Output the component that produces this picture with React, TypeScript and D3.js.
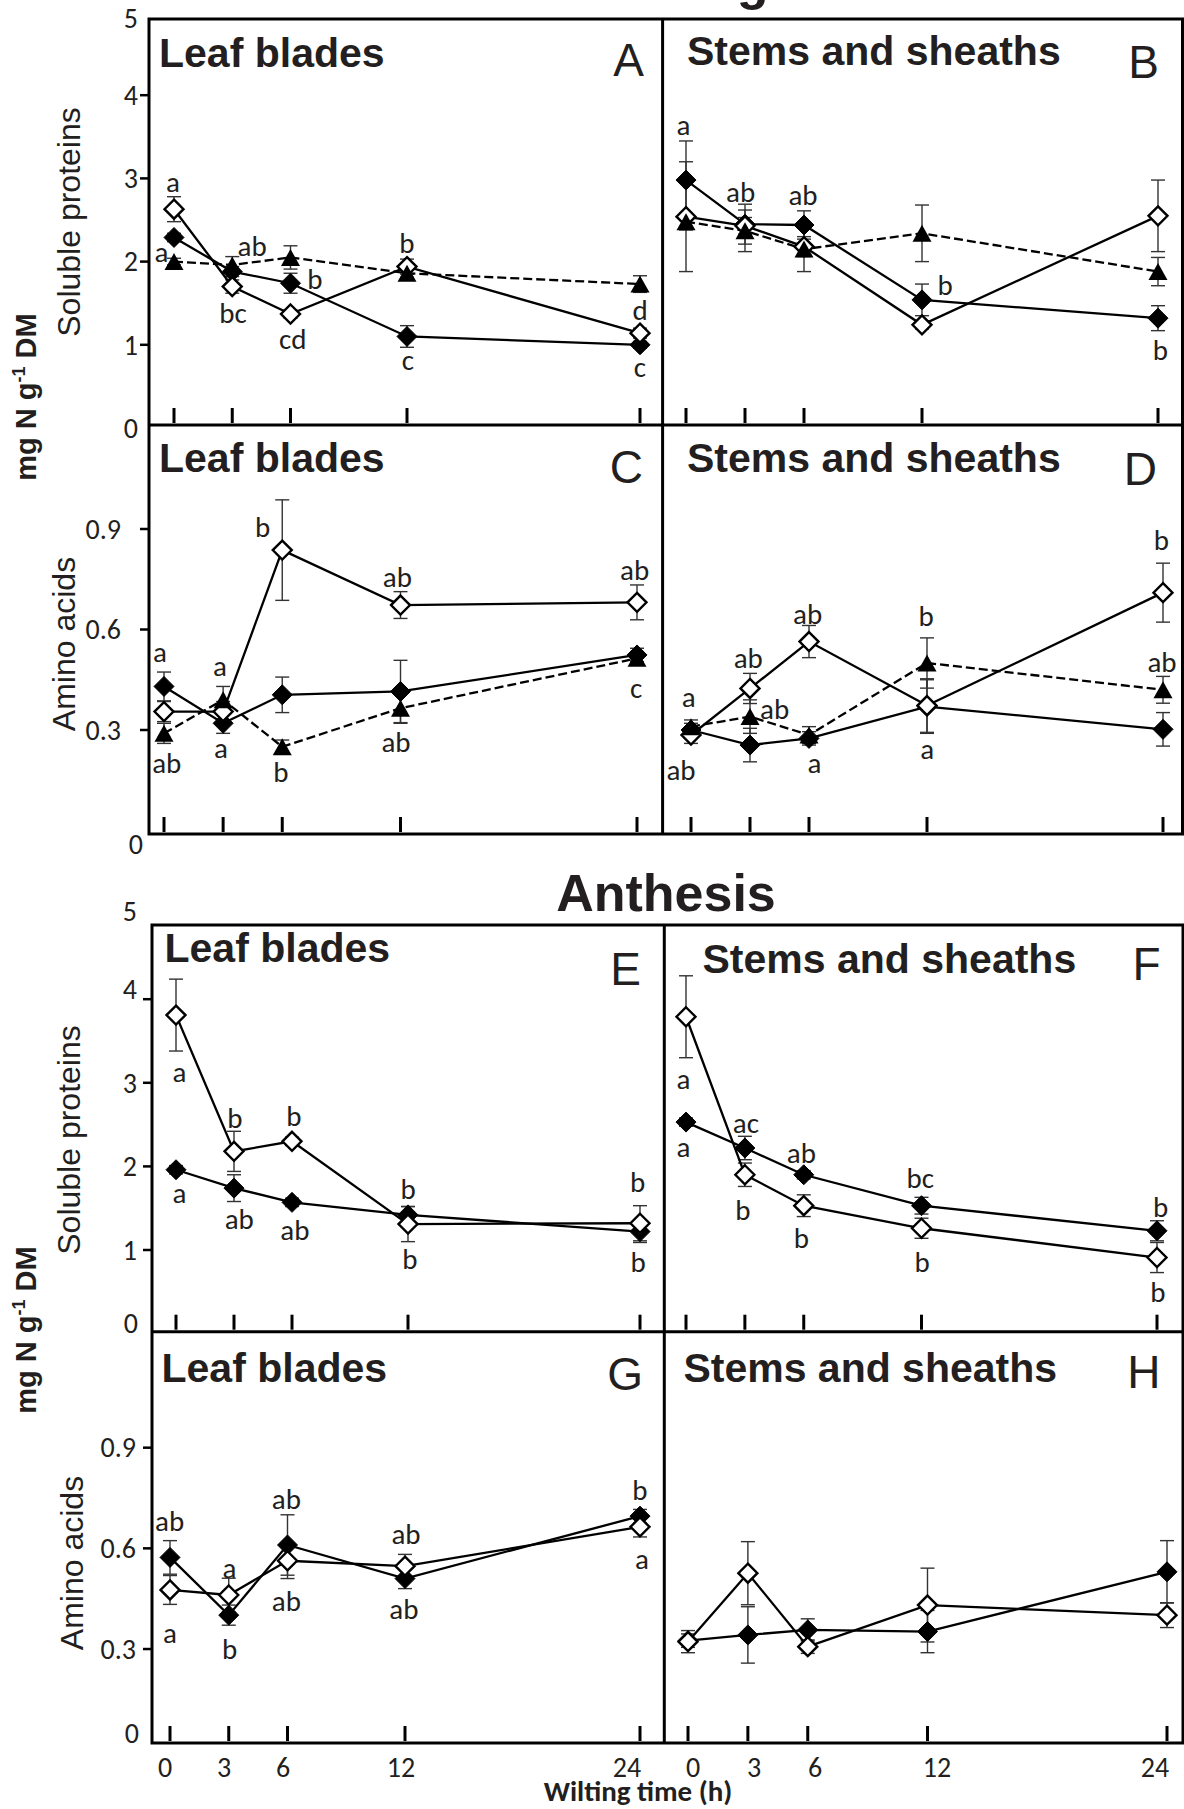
import React from "react";
import * as d3 from "d3";

// Sampling times (h) and axis ticks
const HOURS = [0, 3, 6, 12, 24];
const HOUR_TICKS = [0, 3, 6, 12, 24];
const PROTEIN_TICKS = [1, 2, 3, 4];
const PROTEIN_LABELS = [0, 1, 2, 3, 4, 5];
const AMINO_TICKS = [0.3, 0.6, 0.9];
const AMINO_LABELS = [0, 0.3, 0.6, 0.9];

const STAGE_TITLES = ["Heading", "Anthesis"];
const ORGAN_TITLES = ["Leaf blades", "Stems and sheaths"];
const PANEL_LETTERS = ["A", "B", "C", "D", "E", "F", "G", "H"];
const Y_TITLES = ["Soluble proteins", "Amino acids"];

// Heading — leaf blades — soluble proteins (mg N g-1 DM)
const aFilled = [2.29, 1.88, 1.74, 1.1, 1.0];
const aFilledSE = [0.05, 0.06, 0.12, 0.13, 0.04];
const aOpen = [2.63, 1.7, 1.37, 1.94, 1.14];
const aOpenSE = [0.15, 0.08, 0.05, 0.09, 0.06];
const aTri = [2.0, 1.96, 2.05, 1.86, 1.73];
const aTriSE = [0.04, 0.1, 0.14, 0.05, 0.1];
const aLetters: [number, number, string][] = [
  [-0.05, 2.96, "a"], [-0.64, 2.12, "a"], [4.02, 2.19, "ab"], [3.04, 1.38, "bc"],
  [7.26, 1.79, "b"], [6.11, 1.07, "cd"], [11.99, 2.23, "b"], [12.05, 0.82, "c"],
  [24, 1.42, "d"], [24, 0.74, "c"],
];

// Heading — stems and sheaths — soluble proteins
const bFilled = [2.98, 2.45, 2.44, 1.54, 1.32];
const bFilledSE = [0.47, 0.24, 0.17, 0.19, 0.15];
const bOpen = [2.54, 2.43, 2.18, 1.24, 2.55];
const bOpenSE = [0.66, 0.1, 0.12, 0.05, 0.43];
const bTri = [2.48, 2.37, 2.15, 2.34, 1.88];
const bTriSE = [0.1, 0.25, 0.27, 0.34, 0.17];
const bLetters: [number, number, string][] = [
  [-0.13, 3.64, "a"], [2.78, 2.84, "ab"], [5.95, 2.8, "ab"], [13.17, 1.72, "b"], [24.12, 0.94, "b"],
];

// Heading — leaf blades — amino acids
const cFilled = [0.43, 0.32, 0.405, 0.415, 0.524];
const cFilledSE = [0.043, 0.03, 0.053, 0.093, 0.02];
const cOpen = [0.355, 0.355, 0.837, 0.673, 0.681];
const cOpenSE = [0.03, 0.03, 0.15, 0.04, 0.052];
const cTri = [0.29, 0.39, 0.25, 0.365, 0.514];
const cTriSE = [0.03, 0.04, 0.02, 0.045, 0.02];
const cLetters: [number, number, string][] = [
  [-0.2, 0.532, "a"], [2.84, 0.491, "a"], [5.01, 0.907, "b"], [11.84, 0.758, "ab"],
  [23.88, 0.778, "ab"], [0.14, 0.202, "ab"], [2.89, 0.248, "a"], [5.93, 0.176, "b"],
  [11.77, 0.265, "ab"], [23.95, 0.426, "c"],
];

// Heading — stems and sheaths — amino acids
const dFilled = [0.3, 0.255, 0.275, 0.37, 0.302];
const dFilledSE = [0.02, 0.05, 0.02, 0.08, 0.05];
const dOpen = [0.285, 0.424, 0.564, 0.373, 0.71];
const dOpenSE = [0.025, 0.045, 0.048, 0.08, 0.088];
const dTri = [0.31, 0.34, 0.285, 0.5, 0.42];
const dTriSE = [0.02, 0.05, 0.025, 0.075, 0.04];
const dLetters: [number, number, string][] = [
  [-0.12, 0.4, "a"], [2.91, 0.514, "ab"], [4.25, 0.363, "ab"], [5.93, 0.646, "ab"],
  [11.96, 0.64, "b"], [23.92, 0.867, "b"], [23.95, 0.504, "ab"], [-0.51, 0.181, "ab"],
  [6.28, 0.201, "a"], [12.01, 0.245, "a"],
];

// Anthesis — leaf blades — soluble proteins
const eFilled = [1.96, 1.74, 1.57, 1.42, 1.22];
const eFilledSE = [0.05, 0.16, 0.05, 0.1, 0.13];
const eOpen = [3.81, 2.18, 2.3, 1.31, 1.32];
const eOpenSE = [0.43, 0.24, 0.05, 0.21, 0.21];
const eLetters: [number, number, string][] = [
  [0.18, 3.13, "a"], [0.18, 1.68, "a"], [3.05, 2.58, "b"], [6.1, 2.61, "b"],
  [3.27, 1.37, "ab"], [6.15, 1.24, "ab"], [12.0, 1.73, "b"], [12.1, 0.9, "b"],
  [23.88, 1.82, "b"], [23.9, 0.86, "b"],
];

// Anthesis — stems and sheaths — soluble proteins
const fFilled = [2.53, 2.22, 1.9, 1.53, 1.23];
const fFilledSE = [0.05, 0.14, 0.05, 0.1, 0.12];
const fOpen = [3.79, 1.9, 1.53, 1.26, 0.91];
const fOpenSE = [0.49, 0.14, 0.13, 0.12, 0.18];
const fLetters: [number, number, string][] = [
  [-0.13, 3.05, "a"], [-0.13, 2.23, "a"], [3.05, 2.52, "ac"], [2.9, 1.48, "b"],
  [5.88, 2.16, "ab"], [5.88, 1.14, "b"], [11.94, 1.86, "bc"], [12.03, 0.86, "b"],
  [24.18, 1.52, "b"], [24.05, 0.5, "b"],
];

// Anthesis — leaf blades — amino acids
const gFilled = [0.573, 0.401, 0.61, 0.51, 0.696];
const gFilledSE = [0.05, 0.03, 0.09, 0.03, 0.02];
const gOpen = [0.476, 0.461, 0.563, 0.547, 0.664];
const gOpenSE = [0.043, 0.05, 0.053, 0.035, 0.03];
const gLetters: [number, number, string][] = [
  [-0.02, 0.681, "ab"], [0, 0.347, "a"], [3.04, 0.543, "a"], [3.04, 0.302, "b"],
  [5.94, 0.747, "ab"], [5.94, 0.444, "ab"], [12.05, 0.642, "ab"], [11.94, 0.419, "ab"],
  [23.99, 0.774, "b"], [24.1, 0.57, "a"],
];

// Anthesis — stems and sheaths — amino acids
const hFilled = [0.325, 0.342, 0.357, 0.352, 0.53];
const hFilledSE = [0.02, 0.084, 0.033, 0.063, 0.093];
const hOpen = [0.322, 0.526, 0.307, 0.431, 0.401];
const hOpenSE = [0.033, 0.094, 0.02, 0.11, 0.037];
const hLetters: [number, number, string][] = [];

type Kind = "filled" | "open" | "tri";
type Series = { kind: Kind; values: number[]; se: number[] };
type PanelDef = {
  letter: string;
  organ: string;
  protein: boolean;
  xRange: [number, number];
  yRange: [number, number];
  series: Series[];
  letters: [number, number, string][];
  bottom: number;
  titleX: number;
  titleY: number;
  letterX: number;
  letterY: number;
};

const TEXT = "#231f20";
const SMALL_FONT = "Carlito, Lato, 'Open Sans', sans-serif";
const ARIAL = "'Liberation Sans', Arial, Helvetica, sans-serif";
const TICK_SIZE = 28;
const LETTER_SIZE = 29;

const ROWS = [
  { left: 149, mid: 662.6, right: 1182.5, top: 19, split: 425, bottom: 834 },
  { left: 152, mid: 664.3, right: 1183, top: 925, split: 1331.7, bottom: 1743 },
];

const S = (kind: Kind, values: number[], se: number[]): Series => ({ kind, values, se });

const PANELS: PanelDef[] = [
  {
    letter: PANEL_LETTERS[0], organ: ORGAN_TITLES[0], protein: true,
    xRange: [174, 640], yRange: [428, 12],
    series: [S("filled", aFilled, aFilledSE), S("open", aOpen, aOpenSE), S("tri", aTri, aTriSE)],
    letters: aLetters, bottom: 425, titleX: 159, titleY: 67, letterX: 644, letterY: 76,
  },
  {
    letter: PANEL_LETTERS[1], organ: ORGAN_TITLES[1], protein: true,
    xRange: [686, 1158], yRange: [428, 12],
    series: [S("filled", bFilled, bFilledSE), S("open", bOpen, bOpenSE), S("tri", bTri, bTriSE)],
    letters: bLetters, bottom: 425, titleX: 687, titleY: 65, letterX: 1159, letterY: 78,
  },
  {
    letter: PANEL_LETTERS[2], organ: ORGAN_TITLES[0], protein: false,
    xRange: [164, 637], yRange: [830.5, 428.5],
    series: [S("filled", cFilled, cFilledSE), S("open", cOpen, cOpenSE), S("tri", cTri, cTriSE)],
    letters: cLetters, bottom: 834, titleX: 159, titleY: 472, letterX: 643, letterY: 483,
  },
  {
    letter: PANEL_LETTERS[3], organ: ORGAN_TITLES[1], protein: false,
    xRange: [691, 1163], yRange: [830.5, 428.5],
    series: [S("filled", dFilled, dFilledSE), S("open", dOpen, dOpenSE), S("tri", dTri, dTriSE)],
    letters: dLetters, bottom: 834, titleX: 687, titleY: 472, letterX: 1157, letterY: 485,
  },
  {
    letter: PANEL_LETTERS[4], organ: ORGAN_TITLES[0], protein: true,
    xRange: [176, 640], yRange: [1333.6, 915.6],
    series: [S("filled", eFilled, eFilledSE), S("open", eOpen, eOpenSE)],
    letters: eLetters, bottom: 1331.7, titleX: 164.5, titleY: 962, letterX: 641, letterY: 985,
  },
  {
    letter: PANEL_LETTERS[5], organ: ORGAN_TITLES[1], protein: true,
    xRange: [686, 1157], yRange: [1333.6, 915.6],
    series: [S("filled", fFilled, fFilledSE), S("open", fOpen, fOpenSE)],
    letters: fLetters, bottom: 1331.7, titleX: 702.5, titleY: 973, letterX: 1160.5, letterY: 980,
  },
  {
    letter: PANEL_LETTERS[6], organ: ORGAN_TITLES[0], protein: false,
    xRange: [170, 640], yRange: [1749.7, 1347],
    series: [S("filled", gFilled, gFilledSE), S("open", gOpen, gOpenSE)],
    letters: gLetters, bottom: 1743, titleX: 161.5, titleY: 1382, letterX: 643, letterY: 1390,
  },
  {
    letter: PANEL_LETTERS[7], organ: ORGAN_TITLES[1], protein: false,
    xRange: [688, 1167], yRange: [1749.7, 1347],
    series: [S("filled", hFilled, hFilledSE), S("open", hOpen, hOpenSE)],
    letters: hLetters, bottom: 1743, titleX: 683.4, titleY: 1382, letterX: 1160.5, letterY: 1388,
  },
];

// y-axis (left column) settings for each panel row
type YAxisDef = {
  panel: number;
  axisX: number;
  labelRight: number;
  zeroRight: number;
  zeroShift: number;
  topShift: number;
  nudges: [number, number][];
  titleY: number;
  titleX: number;
};
const Y_AXES: YAxisDef[] = [
  { panel: 0, axisX: 149, labelRight: 138, zeroRight: 138, zeroShift: 0, topShift: 6, nudges: [], titleY: 222, titleX: 80 },
  { panel: 2, axisX: 149, labelRight: 121, zeroRight: 143, zeroShift: 14, topShift: 0, nudges: [], titleY: 644, titleX: 75 },
  { panel: 4, axisX: 152, labelRight: 137, zeroRight: 138, zeroShift: -10, topShift: -4, nudges: [[4, -10]], titleY: 1140, titleX: 80 },
  { panel: 6, axisX: 152, labelRight: 136, zeroRight: 139, zeroShift: -17, topShift: 0, nudges: [], titleY: 1563, titleX: 83 },
];

const diamond = (r: number) => `M0,${-r}L${r},0L0,${r}L${-r},0Z`;
const triangle = (w: number, h: number) => `M0,${-h / 2}L${w / 2},${h / 2}L${-w / 2},${h / 2}Z`;

function Panel({ p }: { p: PanelDef }) {
  const x = d3.scaleLinear().domain([0, 24]).range(p.xRange);
  const y = d3.scaleLinear().domain([0, p.protein ? 5 : 1.2]).range(p.yRange);
  const line = d3
    .line<number>()
    .x((_, i) => x(HOURS[i]))
    .y((v) => y(v));
  const order: Kind[] = ["filled", "open", "tri"];
  const sorted = order
    .map((k) => p.series.find((s) => s.kind === k))
    .filter(Boolean) as Series[];

  return (
    <g>
      {/* x ticks pointing up from the bottom frame */}
      {HOUR_TICKS.map((h) => (
        <line key={h} x1={x(h)} x2={x(h)} y1={p.bottom - 2} y2={p.bottom - 17} stroke="#000" strokeWidth={3} />
      ))}
      {/* error bars */}
      {p.series.map((s, si) =>
        s.values.map((v, i) => {
          const cx = x(HOURS[i]);
          const y1 = y(v + s.se[i]);
          const y2 = y(v - s.se[i]);
          return (
            <g key={`e${si}-${i}`} stroke="#333" strokeWidth={1.4}>
              <line x1={cx} x2={cx} y1={y1} y2={y2} />
              <line x1={cx - 7} x2={cx + 7} y1={y1} y2={y1} />
              <line x1={cx - 7} x2={cx + 7} y1={y2} y2={y2} />
            </g>
          );
        })
      )}
      {/* series lines */}
      {p.series.map((s, si) => (
        <path
          key={`l${si}`}
          d={line(s.values) || ""}
          fill="none"
          stroke="#000"
          strokeWidth={2.3}
          strokeDasharray={s.kind === "tri" ? "9 4" : undefined}
        />
      ))}
      {/* markers */}
      {sorted.map((s, si) =>
        s.values.map((v, i) => {
          const tr = `translate(${x(HOURS[i])},${y(v)})`;
          if (s.kind === "filled")
            return <path key={`m${si}-${i}`} transform={tr} d={diamond(10)} fill="#000" stroke="#000" strokeWidth={1} />;
          if (s.kind === "open")
            return <path key={`m${si}-${i}`} transform={tr} d={diamond(9.5)} fill="#fff" stroke="#000" strokeWidth={2.4} />;
          return <path key={`m${si}-${i}`} transform={tr} d={triangle(19, 17)} fill="#000" />;
        })
      )}
      {/* significance letters */}
      {p.letters.map(([h, v, t], i) => (
        <text
          key={`t${i}`}
          x={x(h)}
          y={y(v)}
          dy="0.35em"
          textAnchor="middle"
          fontFamily={SMALL_FONT}
          fontSize={LETTER_SIZE}
          fill={TEXT}
        >
          {t}
        </text>
      ))}
      {/* panel titles */}
      <text x={p.titleX} y={p.titleY} fontFamily={ARIAL} fontWeight="bold" fontSize={41} fill={TEXT}>
        {p.organ}
      </text>
      <text x={p.letterX} y={p.letterY} textAnchor="end" fontFamily={ARIAL} fontSize={46} fill={TEXT}>
        {p.letter}
      </text>
    </g>
  );
}

function YAxis({ a }: { a: YAxisDef }) {
  const p = PANELS[a.panel];
  const y = d3.scaleLinear().domain([0, p.protein ? 5 : 1.2]).range(p.yRange);
  const ticks = p.protein ? PROTEIN_TICKS : AMINO_TICKS;
  const labels = p.protein ? PROTEIN_LABELS : AMINO_LABELS;
  const fmt = (v: number) => (v === 0 ? "0" : p.protein ? d3.format("d")(v) : d3.format(".1f")(v));
  const maxLabel = labels[labels.length - 1];
  return (
    <g>
      {ticks.map((v) => (
        <line key={v} x1={a.axisX - 9} x2={a.axisX} y1={y(v)} y2={y(v)} stroke="#000" strokeWidth={2.5} />
      ))}
      {labels.map((v) => {
        const nudge = a.nudges.find((n) => n[0] === v);
        const shift = v === 0 ? a.zeroShift : v === maxLabel ? a.topShift : nudge ? nudge[1] : 0;
        return (
          <text
            key={v}
            x={v === 0 ? a.zeroRight : a.labelRight}
            y={y(v) + shift}
            dy="0.35em"
            textAnchor="end"
            fontFamily={SMALL_FONT}
            fontSize={TICK_SIZE}
            fill={TEXT}
          >
            {fmt(v)}
          </text>
        );
      })}
      <text
        transform={`translate(${a.titleX},${a.titleY}) rotate(-90)`}
        textAnchor="middle"
        fontFamily={ARIAL}
        fontSize={32}
        fill={TEXT}
      >
        {p.protein ? Y_TITLES[0] : Y_TITLES[1]}
      </text>
    </g>
  );
}

function UnitLabel({ cy }: { cy: number }) {
  return (
    <text
      transform={`translate(36,${cy}) rotate(-90)`}
      textAnchor="middle"
      fontFamily={ARIAL}
      fontWeight="bold"
      fontSize={29}
      fill={TEXT}
    >
      <tspan>mg N g</tspan>
      <tspan dy={-11} fontSize={18}>-1</tspan>
      <tspan dy={11}> DM</tspan>
    </text>
  );
}

export default function App() {
  const W = 1184;
  const H = 1809;
  const xLabelLeft = d3.scaleLinear().domain([0, 12, 24]).range([165, 401, 627]);
  const xLabelRight = d3.scaleLinear().domain([0, 12, 24]).range([693, 937, 1155]);

  return (
    <svg
      width={W}
      height={H}
      viewBox={`0 0 ${W} ${H}`}
      style={{ position: "absolute", left: 0, top: 0, display: "block" }}
    >
      <rect width={W} height={H} fill="#fff" />

      {PANELS.map((p) => (
        <Panel key={p.letter} p={p} />
      ))}

      {/* panel frames */}
      {ROWS.map((r, i) => (
        <g key={i} fill="none" stroke="#000" strokeWidth={3}>
          <rect x={r.left} y={r.top} width={r.right - r.left} height={r.bottom - r.top} />
          <line x1={r.left} x2={r.right} y1={r.split} y2={r.split} />
          <line x1={r.mid} x2={r.mid} y1={r.top} y2={r.bottom} />
        </g>
      ))}

      {Y_AXES.map((a) => (
        <YAxis key={a.panel} a={a} />
      ))}

      <UnitLabel cy={397} />
      <UnitLabel cy={1330} />

      {/* growth stage titles */}
      <text x={666} y={-1} textAnchor="middle" fontFamily={ARIAL} fontWeight="bold" fontSize={52} fill={TEXT}>
        {STAGE_TITLES[0]}
      </text>
      <text x={666} y={911} textAnchor="middle" fontFamily={ARIAL} fontWeight="bold" fontSize={52} fill={TEXT}>
        {STAGE_TITLES[1]}
      </text>

      {/* shared time axis labels */}
      {HOUR_TICKS.map((h) => (
        <text key={`l${h}`} x={xLabelLeft(h)} y={1777} textAnchor="middle" fontFamily={SMALL_FONT} fontSize={TICK_SIZE} fill={TEXT}>
          {h}
        </text>
      ))}
      {HOUR_TICKS.map((h) => (
        <text key={`r${h}`} x={xLabelRight(h)} y={1777} textAnchor="middle" fontFamily={SMALL_FONT} fontSize={TICK_SIZE} fill={TEXT}>
          {h}
        </text>
      ))}
      <text x={638} y={1801} textAnchor="middle" fontFamily={SMALL_FONT} fontWeight="bold" fontSize={29} fill={TEXT}>
        Wilting time (h)
      </text>
    </svg>
  );
}
